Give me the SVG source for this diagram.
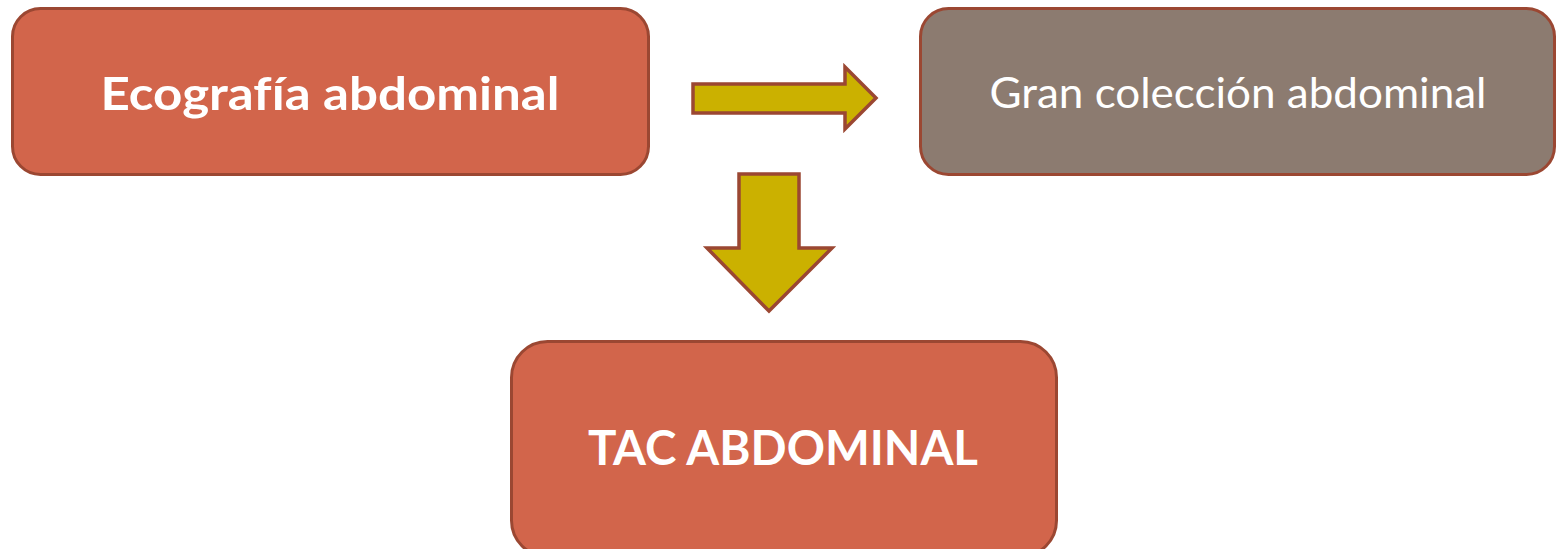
<svg xmlns="http://www.w3.org/2000/svg" width="1557" height="549" viewBox="0 0 1557 549">
<style>
.box{stroke:#9B4732;stroke-width:3}
.red{fill:#D2654B}
.grey{fill:#8C7B70}
.arrow{fill:#CBB100;stroke:#9B4732;stroke-width:3.5;stroke-linejoin:miter}
.t{fill:#FFFFFF;font-family:"Lato","Liberation Sans",sans-serif;text-anchor:middle;font-variant-ligatures:none}
.b{font-weight:bold}
</style>
<g id="connectors">
<polygon class="arrow" points="693,84 845,84 845,67 876,98 845,129 845,113 693,113"/>
<polygon class="arrow" points="739,174 799,174 799,248 832,248 769,311 707,248 739,248"/>
</g>
<g id="node-ecografia">
<rect class="box red" x="12.5" y="8.5" width="636" height="166" rx="28"/>
<text class="t b" x="330" y="110" font-size="46" textLength="459" lengthAdjust="spacingAndGlyphs">Ecografía abdominal</text>
</g>
<g id="node-coleccion">
<rect class="box grey" x="920.5" y="8.5" width="634" height="166" rx="28"/>
<text class="t" x="1238" y="108" font-size="42" textLength="497" lengthAdjust="spacingAndGlyphs">Gran colección abdominal</text>
</g>
<g id="node-tac">
<rect class="box red" x="511.5" y="341.5" width="545" height="215" rx="36"/>
<text class="t b" x="783" y="465" font-size="48" textLength="390" lengthAdjust="spacingAndGlyphs">TAC ABDOMINAL</text>
</g>
</svg>
